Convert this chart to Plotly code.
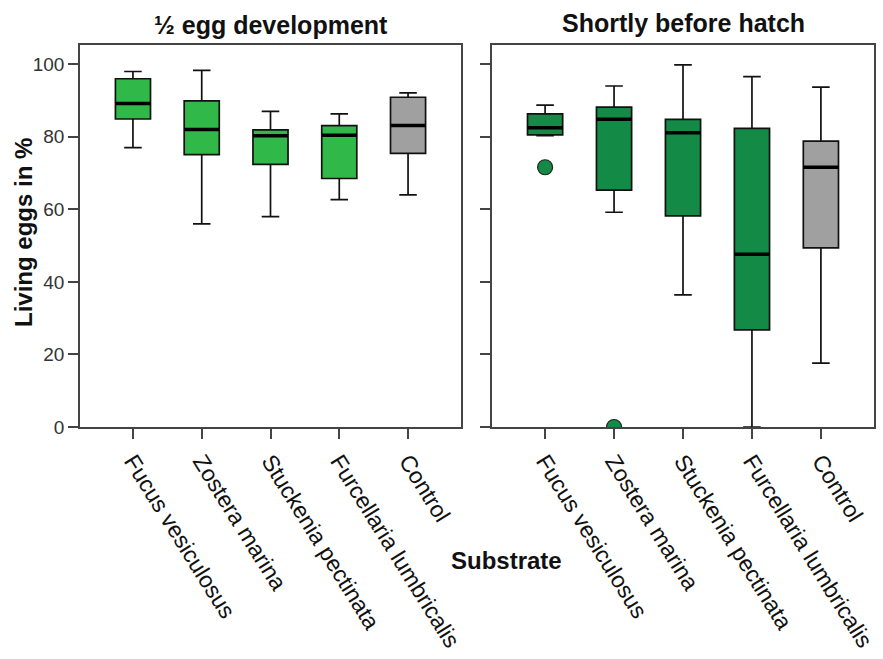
import plotly.graph_objects as go

# Categories (substrates)
substrates = ["Fucus vesiculosus", "Zostera marina", "Stuckenia pectinata",
              "Furcellaria lumbricalis", "Control"]

# Box statistics, living eggs in % — half egg development
half_low = [77.0, 56.0, 58.0, 62.7, 64.0]
half_q1 = [84.9, 75.1, 72.4, 68.5, 75.4]
half_med = [89.2, 82.0, 80.3, 80.4, 83.1]
half_q3 = [96.0, 89.9, 81.9, 83.1, 90.9]
half_high = [98.0, 98.3, 87.0, 86.3, 92.1]

# Box statistics — shortly before hatch
hatch_low = [80.3, 59.2, 36.4, 0.0, 17.6]
hatch_q1 = [80.5, 65.3, 58.2, 26.8, 49.4]
hatch_med = [82.5, 84.8, 81.1, 47.6, 71.6]
hatch_q3 = [86.3, 88.2, 84.8, 82.3, 78.8]
hatch_high = [88.7, 94.0, 99.8, 96.6, 93.7]

# Outliers shortly before hatch (category index, value)
hatch_out_idx = [0, 1]
hatch_out_val = [71.6, 0.0]

y_ticks = [0, 20, 40, 60, 80, 100]

GREEN_LIGHT = "#30b848"
GREEN_DARK = "#138a45"
GREY = "#a0a0a0"
FONT = "Arial, Liberation Sans, sans-serif"
BOX_W = 0.51

fig = go.Figure()


def add_panel(low, q1, med, q3, high, green, xa, ya):
    for i in range(len(substrates)):
        color = GREY if substrates[i] == "Control" else green
        fig.add_trace(go.Box(
            x=[i], q1=[q1[i]], median=[med[i]], q3=[q3[i]],
            lowerfence=[low[i]], upperfence=[high[i]],
            width=BOX_W, whiskerwidth=0.5,
            fillcolor=color, line=dict(color="#111111", width=1.7),
            boxpoints=False, showlegend=False, hoverinfo="skip",
            xaxis=xa, yaxis=ya,
        ))
        # thicker median bar
        fig.add_trace(go.Scatter(
            x=[i - BOX_W / 2, i + BOX_W / 2], y=[med[i], med[i]],
            mode="lines", line=dict(color="#000000", width=3.5),
            showlegend=False, hoverinfo="skip", xaxis=xa, yaxis=ya,
        ))


add_panel(half_low, half_q1, half_med, half_q3, half_high, GREEN_LIGHT, "x", "y")
add_panel(hatch_low, hatch_q1, hatch_med, hatch_q3, hatch_high, GREEN_DARK, "x2", "y2")

fig.add_trace(go.Scatter(
    x=hatch_out_idx, y=hatch_out_val, mode="markers",
    marker=dict(size=15, color=GREEN_DARK, line=dict(color="#222222", width=1.2)),
    showlegend=False, hoverinfo="skip", xaxis="x2", yaxis="y2",
))

L_MARGIN, R_MARGIN, T_MARGIN, B_MARGIN = 80, 9, 45, 232
W, H = 883, 659
plot_w = W - L_MARGIN - R_MARGIN

axis_common = dict(
    showline=True, mirror=True, linecolor="#444444", linewidth=1.6,
    ticks="outside", ticklen=10, tickcolor="#444444", tickwidth=1.6,
    showgrid=False, zeroline=False, automargin=False,
)

xaxis_common = dict(
    axis_common, range=[-0.77, 4.77], tickvals=list(range(len(substrates))),
    ticktext=substrates, tickangle=58,
    tickfont=dict(family=FONT, size=23, color="#111111"),
)

yaxis_common = dict(
    axis_common, range=[0, 105.3], tickvals=y_ticks,
    tickfont=dict(family=FONT, size=19, color="#333333"),
)

fig.update_layout(
    width=W, height=H,
    margin=dict(l=L_MARGIN, r=R_MARGIN, t=T_MARGIN, b=B_MARGIN),
    paper_bgcolor="white", plot_bgcolor="white",
    xaxis=dict(xaxis_common, domain=[0, (461 - L_MARGIN) / plot_w], anchor="y"),
    xaxis2=dict(xaxis_common, domain=[(492 - L_MARGIN) / plot_w, 1], anchor="y2"),
    yaxis=dict(yaxis_common, anchor="x"),
    yaxis2=dict(yaxis_common, anchor="x2", showticklabels=False),
    font=dict(family=FONT),
    annotations=[
        dict(text="<b>½ egg development</b>", xref="x domain", yref="paper",
             x=0.5, y=1, yshift=20, showarrow=False, yanchor="middle",
             font=dict(family=FONT, size=25, color="#111111")),
        dict(text="<b>Shortly before hatch</b>", xref="x2 domain", yref="paper",
             x=0.5, y=1, yshift=22, showarrow=False, yanchor="middle",
             font=dict(family=FONT, size=25, color="#111111")),
        dict(text="<b>Living eggs in %</b>", xref="paper", yref="paper",
             x=0, xshift=-57, y=0.5, yshift=3, textangle=-90, showarrow=False,
             xanchor="center", yanchor="middle",
             font=dict(family=FONT, size=24, color="#111111")),
        dict(text="<b>Substrate</b>", xref="paper", yref="paper",
             x=(507 - L_MARGIN) / plot_w, y=0, yshift=-133, showarrow=False,
             xanchor="center", yanchor="middle",
             font=dict(family=FONT, size=24, color="#111111")),
    ],
)

fig.write_html("out.html")
